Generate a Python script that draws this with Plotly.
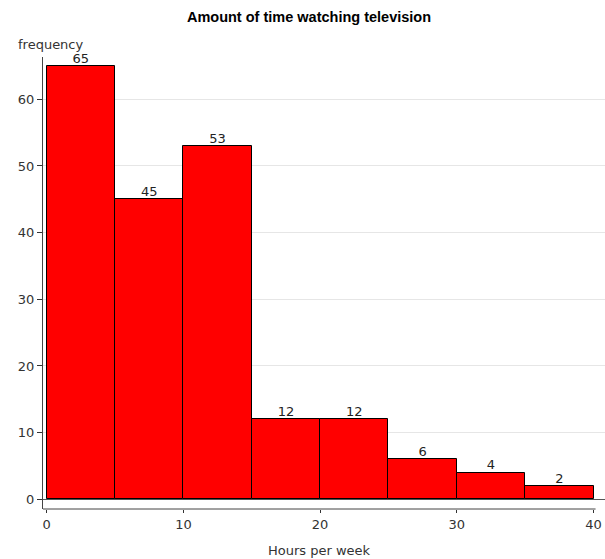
import plotly.graph_objects as go

bin_starts = [0, 5, 10, 15, 20, 25, 30, 35]
bin_width = 5
counts = [65, 45, 53, 12, 12, 6, 4, 2]
x_ticks = [0, 10, 20, 30, 40]
y_ticks = [0, 10, 20, 30, 40, 50, 60]

FONT = "DejaVu Sans"
x_range = [-0.27, 40.84]
y_range = [-1.455, 66.35]

bin_centers = [s + bin_width / 2 for s in bin_starts]

fig = go.Figure()
fig.add_trace(go.Bar(
    x=bin_starts,
    y=counts,
    width=[bin_width] * len(counts),
    offset=0,
    marker=dict(color="#FF0000", line=dict(color="black", width=1)),
    hoverinfo="skip",
))
fig.add_trace(go.Scatter(
    x=bin_centers,
    y=counts,
    mode="text",
    text=[str(c) for c in counts],
    textposition="top center",
    textfont=dict(family=FONT, size=13, color="#222222"),
    cliponaxis=False,
    hoverinfo="skip",
))

fig.update_layout(
    width=605, height=559,
    margin=dict(l=43, r=0, t=57, b=50, autoexpand=False),
    paper_bgcolor="white", plot_bgcolor="white",
    font=dict(family=FONT, size=13, color="#333333"),
    title=dict(text="<b>Amount of time watching television</b>", x=309 / 605, xanchor="center",
               y=1 - 17 / 559, yanchor="middle",
               font=dict(family="Liberation Sans", size=14.5, color="black")),
    showlegend=False,
    bargap=0,
    xaxis=dict(
        range=x_range, tickvals=x_ticks, showgrid=False, zeroline=False,
        showline=False, automargin=False,
        ticks="outside", ticklen=3, tickcolor="#333333",
        tickfont=dict(size=13, color="#333333"),
    ),
    yaxis=dict(
        range=y_range, tickvals=y_ticks, showgrid=True, gridcolor="#E6E6E6",
        zeroline=True, zerolinecolor="#555555", zerolinewidth=1,
        showline=True, linecolor="#444444", linewidth=1, automargin=False,
        ticks="outside", ticklen=5, tickcolor="#333333",
        tickfont=dict(size=13, color="#333333"),
    ),
    shapes=[dict(type="line", xref="x", yref="paper", x0=x_range[0], x1=x_ticks[-1] + 0.15,
                 y0=0, y1=0, line=dict(color="#444444", width=1))],
    annotations=[
        dict(text="frequency", xref="paper", yref="paper", x=(17 - 43) / 562, y=(509 - 45) / 452,
             xanchor="left", yanchor="middle", showarrow=False, borderpad=0,
             font=dict(family=FONT, size=13, color="#333333")),
        dict(text="Hours per week", xref="paper", yref="paper", x=(319 - 43) / 562, y=(509 - 550) / 452,
             xanchor="center", yanchor="middle", showarrow=False,
             font=dict(family=FONT, size=13, color="#333333")),
    ],
)

fig.write_html("out.html", config={"displayModeBar": False},
               post_script="document.body.style.margin='0px';document.body.style.overflow='hidden';")
